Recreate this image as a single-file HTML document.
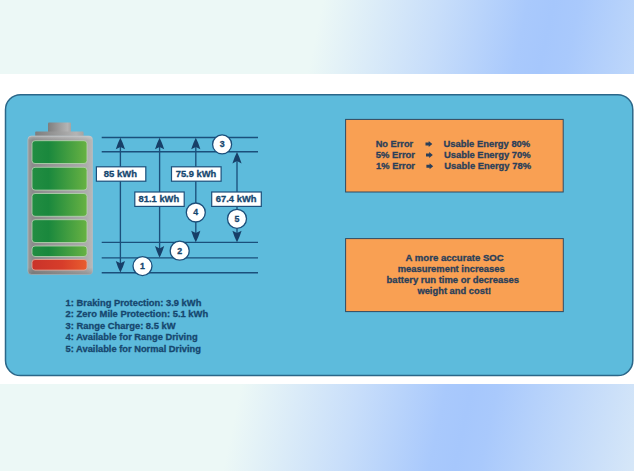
<!DOCTYPE html>
<html>
<head>
<meta charset="utf-8">
<title>SOC accuracy and usable energy</title>
<style>
html,body{margin:0;padding:0;}
body{width:634px;height:471px;overflow:hidden;background:#fff;font-family:"Liberation Sans",sans-serif;}
svg{display:block;position:absolute;left:0;top:0;}
text{font-family:"Liberation Sans",sans-serif;font-weight:bold;stroke-width:0.3px;}
.t{fill:#16476f;stroke:#16476f;}
</style>
</head>
<body>
<svg width="634" height="471" viewBox="0 0 634 471">
  <defs>
    <linearGradient id="bg" gradientUnits="userSpaceOnUse" x1="-34.1" y1="160.8" x2="668.1" y2="310.2">
      <stop offset="0" stop-color="#ecf8f6"/>
      <stop offset="0.44" stop-color="#ecf8f6"/>
      <stop offset="0.6" stop-color="#c8defa"/>
      <stop offset="0.72" stop-color="#a9c9fc"/>
      <stop offset="0.755" stop-color="#a6c7fc"/>
      <stop offset="0.79" stop-color="#a9c9fc"/>
      <stop offset="1" stop-color="#d6e7f8"/>
    </linearGradient>
    <linearGradient id="green" x1="0" y1="0" x2="1" y2="0">
      <stop offset="0" stop-color="#228d42"/>
      <stop offset="0.3" stop-color="#1a883d"/>
      <stop offset="1" stop-color="#68b243"/>
    </linearGradient>
    <linearGradient id="red" x1="0" y1="0" x2="1" y2="0">
      <stop offset="0" stop-color="#c9332a"/>
      <stop offset="0.55" stop-color="#d73d2a"/>
      <stop offset="1" stop-color="#e95d2e"/>
    </linearGradient>
    <linearGradient id="metal" x1="0" y1="0" x2="1" y2="0">
      <stop offset="0" stop-color="#9a9a9a"/>
      <stop offset="0.08" stop-color="#8a8a8a"/>
      <stop offset="0.9" stop-color="#acacac"/>
      <stop offset="1" stop-color="#b8b8b8"/>
    </linearGradient>
    <linearGradient id="cap" x1="0" y1="0" x2="1" y2="0">
      <stop offset="0" stop-color="#7e7e7e"/>
      <stop offset="0.85" stop-color="#b4b4b4"/>
      <stop offset="1" stop-color="#a4a4a4"/>
    </linearGradient>
    <linearGradient id="shade" x1="0" y1="0" x2="0" y2="1">
      <stop offset="0" stop-color="#ffffff" stop-opacity="0.28"/>
      <stop offset="0.03" stop-color="#ffffff" stop-opacity="0"/>
      <stop offset="0.95" stop-color="#000000" stop-opacity="0"/>
      <stop offset="1" stop-color="#000000" stop-opacity="0.15"/>
    </linearGradient>
    <path id="ah" d="M0 0 Q2.6 5 4.6 11.5 L0 9.2 L-4.6 11.5 Q-2.6 5 0 0 Z"/>
    <path id="ra" d="M0 -1.5 H3.2 V-3 L6.8 0 L3.2 3 V1.5 H0 Z"/>
  </defs>

  <!-- backdrop -->
  <rect x="0" y="0" width="634" height="471" fill="url(#bg)"/>
  <rect x="0" y="74" width="634" height="310" fill="#ffffff"/>

  <!-- main panel -->
  <rect x="5.5" y="94.7" width="627.3" height="280.9" rx="15" ry="15" fill="#5dbbdc" stroke="#2b6789" stroke-width="1.5"/>

  <!-- battery -->
  <g>
    <rect x="48" y="122.6" width="23" height="10" rx="1" fill="url(#cap)"/>
    <rect x="35.2" y="131.6" width="48.4" height="5" rx="0.8" fill="url(#cap)"/>
    <rect x="27.9" y="136" width="64.6" height="138.4" rx="3.5" fill="url(#metal)" stroke="#b4bcc2" stroke-width="0.8"/>
    <rect x="27.9" y="136" width="64.6" height="138.4" rx="3.5" fill="url(#shade)"/>
    <g stroke="#b9d6b4" stroke-width="0.8">
      <rect x="32" y="140.7" width="55" height="22.8" rx="3" fill="url(#green)"/>
      <rect x="32" y="167.3" width="55" height="22.8" rx="3" fill="url(#green)"/>
      <rect x="32" y="193.5" width="55" height="22.8" rx="3" fill="url(#green)"/>
      <rect x="32" y="219.7" width="55" height="22.8" rx="3" fill="url(#green)"/>
      <rect x="32" y="246" width="55" height="10.5" rx="3" fill="url(#green)"/>
      <rect x="32" y="259.5" width="55" height="10.6" rx="3" fill="url(#red)" stroke="#e3ab9c"/>
    </g>
  </g>

  <g stroke="#1b4f7b" stroke-width="1.35" fill="none">
    <line x1="101.7" y1="137.5" x2="258" y2="137.5"/>
    <line x1="101.7" y1="151.7" x2="258" y2="151.7"/>
    <line x1="101.7" y1="242.4" x2="258" y2="242.4"/>
    <line x1="101.7" y1="257.8" x2="258" y2="257.8"/>
    <line x1="101.7" y1="272.7" x2="258" y2="272.7"/>
    <line x1="120.4" y1="143.5" x2="120.4" y2="266.7"/>
    <line x1="159.6" y1="143.5" x2="159.6" y2="251.8"/>
    <line x1="195.8" y1="143.5" x2="195.8" y2="236.4"/>
    <line x1="237.0" y1="157.7" x2="237.0" y2="236.4"/>
  </g>
  <g fill="#173f68">
    <use href="#ah" x="120.4" y="137.7"/>
    <use href="#ah" transform="translate(120.4 272.5) scale(1 -1)"/>
    <use href="#ah" x="159.6" y="137.7"/>
    <use href="#ah" transform="translate(159.6 257.6) scale(1 -1)"/>
    <use href="#ah" x="195.8" y="137.7"/>
    <use href="#ah" transform="translate(195.8 242.2) scale(1 -1)"/>
    <use href="#ah" x="237.0" y="151.89999999999998"/>
    <use href="#ah" transform="translate(237.0 242.2) scale(1 -1)"/>
  </g>
  <g fill="#ffffff" stroke="#1b4f7b" stroke-width="1.2">
    <rect x="96.4" y="166.8" width="49.4" height="14.4"/>
    <rect x="171.5" y="166.8" width="49.6" height="14.4"/>
    <rect x="134.8" y="192" width="49.4" height="14.4"/>
    <rect x="211.7" y="192" width="49.6" height="14.4"/>
  </g>
  <g class="t" font-size="9">
    <text x="103.8" y="177" textLength="33.2" lengthAdjust="spacingAndGlyphs">85 kWh</text>
    <text x="175.7" y="177" textLength="40.6" lengthAdjust="spacingAndGlyphs">75.9 kWh</text>
    <text x="138.5" y="201.7" textLength="40.7" lengthAdjust="spacingAndGlyphs">81.1 kWh</text>
    <text x="215.8" y="201.7" textLength="40.7" lengthAdjust="spacingAndGlyphs">67.4 kWh</text>
  </g>
  <g fill="#ffffff" stroke="#1b4f7b" stroke-width="1.3">
    <circle cx="222.1" cy="144.4" r="9.5"/>
    <circle cx="195.8" cy="212.5" r="9.5"/>
    <circle cx="237.0" cy="218.8" r="9.5"/>
    <circle cx="179.7" cy="250.7" r="9.5"/>
    <circle cx="142.5" cy="266.1" r="9.5"/>
  </g>
  <g class="t" font-size="8.8" text-anchor="middle">
    <text x="222.1" y="147.3">3</text>
    <text x="195.8" y="215.4">4</text>
    <text x="237.0" y="221.7">5</text>
    <text x="179.7" y="253.6">2</text>
    <text x="142.5" y="269.0">1</text>
  </g>
  <g class="t" font-size="9">
    <text x="65.6" y="305.8" textLength="135.8" lengthAdjust="spacingAndGlyphs">1: Braking Protection: 3.9 kWh</text>
    <text x="65.6" y="317.3" textLength="142.6" lengthAdjust="spacingAndGlyphs">2: Zero Mile Protection: 5.1 kWh</text>
    <text x="65.6" y="328.7" textLength="110" lengthAdjust="spacingAndGlyphs">3: Range Charge: 8.5 kW</text>
    <text x="65.6" y="340.1" textLength="132" lengthAdjust="spacingAndGlyphs">4: Available for Range Driving</text>
    <text x="65.6" y="351.6" textLength="135.3" lengthAdjust="spacingAndGlyphs">5: Available for Normal Driving</text>
  </g>
  <g fill="#f9a053" stroke="#2f4a63" stroke-width="1">
    <rect x="345.6" y="119.4" width="217.6" height="72.6"/>
    <rect x="345.6" y="238.6" width="217.7" height="73"/>
  </g>
  <g font-size="9" fill="#2a3f5a" stroke="#2a3f5a">
    <text x="375.7" y="147.3" textLength="37.5" lengthAdjust="spacingAndGlyphs">No Error</text>
    <use href="#ra" x="425.5" y="144.1" fill="#2a3f5a" stroke="none"/>
    <text x="443.5" y="147.3" textLength="86.7" lengthAdjust="spacingAndGlyphs">Usable Energy 80%</text>
    <text x="375.7" y="158.3" textLength="39.3" lengthAdjust="spacingAndGlyphs">5% Error</text>
    <use href="#ra" x="426.0" y="155.1" fill="#2a3f5a" stroke="none"/>
    <text x="443.9" y="158.3" textLength="86.8" lengthAdjust="spacingAndGlyphs">Usable Energy 70%</text>
    <text x="376.1" y="169.4" textLength="38.9" lengthAdjust="spacingAndGlyphs">1% Error</text>
    <use href="#ra" x="426.4" y="166.2" fill="#2a3f5a" stroke="none"/>
    <text x="444.3" y="169.4" textLength="86.7" lengthAdjust="spacingAndGlyphs">Usable Energy 78%</text>
  </g>
  <g font-size="9.1" fill="#2a3f5a" stroke="#2a3f5a">
    <text x="405.6" y="261.3" textLength="98.1" lengthAdjust="spacingAndGlyphs">A more accurate SOC</text>
    <text x="397.7" y="271.9" textLength="107" lengthAdjust="spacingAndGlyphs">measurement increases</text>
    <text x="386.6" y="282.8" textLength="132.5" lengthAdjust="spacingAndGlyphs">battery run time or decreases</text>
    <text x="417.4" y="293.7" textLength="73.8" lengthAdjust="spacingAndGlyphs">weight and cost!</text>
  </g>
</svg>
</body>
</html>
